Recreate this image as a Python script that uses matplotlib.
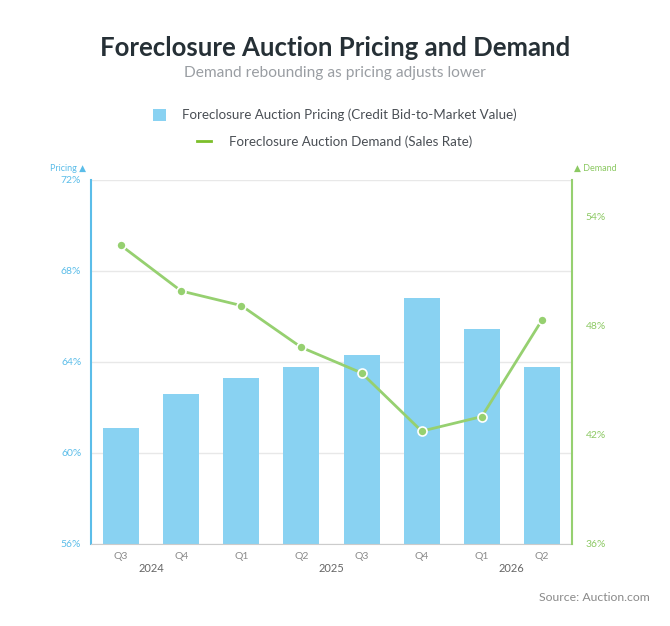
import matplotlib
matplotlib.use("Agg")
import matplotlib.pyplot as plt
from matplotlib.lines import Line2D
from matplotlib.patches import Patch

plt.rcParams["font.family"] = ["Lato", "DejaVu Sans"]

quarters = ["Q3", "Q4", "Q1", "Q2", "Q3", "Q4", "Q1", "Q2"]
years = ["2024", "2025", "2026"]
year_pos = [0.5, 3.5, 6.5]
pricing = [61.1, 62.6, 63.3, 63.8, 64.3, 66.8, 65.45, 63.8]
demand = [52.4, 49.9, 49.1, 46.8, 45.4, 42.2, 43.0, 48.3]

BLUE = "#89d2f2"
BLUE_AX = "#5bbde9"
GREEN = "#96d070"
GREEN_AX = "#8cc963"

fig = plt.figure(figsize=(6.7, 6.26), dpi=100)
ax = fig.add_axes([0.1358, 0.131, 0.7179, 0.5815])
ax2 = ax.twinx()

x = list(range(len(quarters)))
ax.bar(x, pricing, width=0.6, color=BLUE, zorder=2)
ax.set_ylim(56, 72)
ax.set_xlim(-0.5, len(quarters) - 0.5)
ax.set_yticks([56, 60, 64, 68, 72])
ax.set_yticklabels([f"{v}%" for v in [56, 60, 64, 68, 72]])
ax.grid(axis="y", color="#e8e8e8", lw=1, zorder=0)
ax.set_axisbelow(True)
ax.tick_params(axis="y", length=0, labelsize=7.5, labelcolor=BLUE_AX, pad=7)
ax.set_xticks(x)
ax.set_xticklabels(quarters)
ax.tick_params(axis="x", length=0, labelsize=7.5, labelcolor="#8a8a8a", pad=6)
for i, yr in enumerate(years):
    ax.text(year_pos[i], -0.068, yr, transform=ax.get_xaxis_transform(),
            ha="center", va="center", fontsize=8, color="#666666")

ax2.plot(x, demand, color=GREEN, lw=2, marker="o", ms=6.5,
         mfc=GREEN, mec="white", mew=1.2, zorder=3)
ax2.set_ylim(36, 56)
ax2.set_yticks([36, 42, 48, 54])
ax2.set_yticklabels([f"{v}%" for v in [36, 42, 48, 54]])
ax2.tick_params(axis="y", length=0, labelsize=7.5, labelcolor=GREEN_AX, pad=10)

for a in (ax, ax2):
    for s in a.spines.values():
        s.set_visible(False)
ax.spines["left"].set_visible(True)
ax.spines["left"].set_color(BLUE_AX)
ax.spines["left"].set_linewidth(1.5)
ax2.spines["right"].set_visible(True)
ax2.spines["right"].set_color(GREEN)
ax2.spines["right"].set_linewidth(1.5)
ax.spines["bottom"].set_visible(True)
ax.spines["bottom"].set_color("#cccccc")

fig.text(0.075, 0.731, "Pricing \u25b2", fontsize=6.5, color=BLUE_AX, ha="left", va="center")
fig.text(0.856, 0.731, "\u25b2 Demand", fontsize=6.5, color=GREEN_AX, ha="left", va="center")

fig.text(0.5, 0.923, "Foreclosure Auction Pricing and Demand", fontsize=18.5,
         fontweight="bold", color="#263036", ha="center", va="center")
fig.text(0.5, 0.883, "Demand rebounding as pricing adjusts lower", fontsize=11.2,
         color="#9a9ea3", ha="center", va="center")

handles = [Patch(facecolor=BLUE, edgecolor="none"),
           Line2D([0], [0], color="#7cbf2a", lw=2)]
fig.legend(handles[:1], ["Foreclosure Auction Pricing (Credit Bid-to-Market Value)"],
           loc="center", bbox_to_anchor=(0.5, 0.816), frameon=False, fontsize=9.6,
           labelcolor="#4a4f55", handlelength=1.0, handleheight=1.0, handletextpad=1.2)
fig.legend(handles[1:], ["Foreclosure Auction Demand (Sales Rate)"],
           loc="center", bbox_to_anchor=(0.5, 0.774), frameon=False, fontsize=9.6,
           labelcolor="#4a4f55", handlelength=1.0, handletextpad=1.4)

fig.text(0.97, 0.045, "Source: Auction.com", fontsize=8.8, color="#8a8a8a",
         ha="right", va="center")

fig.savefig("out.png", dpi=100, facecolor="white")
